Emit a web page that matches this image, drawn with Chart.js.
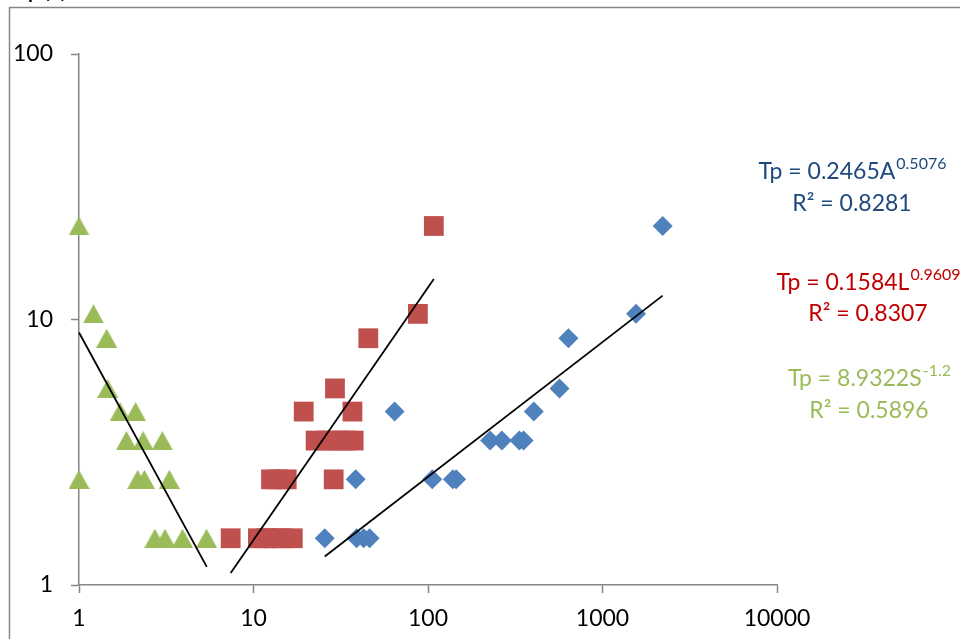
<!DOCTYPE html>
<html>
<head>
<meta charset="utf-8">
<script src="https://cdn.jsdelivr.net/npm/chart.js@4/dist/chart.umd.min.js"></script>
<style>
    body { margin: 0; background: #ffffff; }
    #wrap { width: 960px; height: 639px; }
</style>
</head>
<body>
<div id="wrap"><canvas id="tpChart" width="960" height="639"></canvas></div>
<script>
// Tp against catchment area (A), length (L) and slope (S)
const areaX = [25.6, 39.0, 42.8, 46.3, 38.5, 105.8, 138.8, 145, 227, 265, 334, 353, 64.4, 404, 567, 638, 1557, 2212];
const areaY = [1.5, 1.5, 1.5, 1.5, 2.5, 2.5, 2.5, 2.5, 3.5, 3.5, 3.5, 3.5, 4.5, 4.5, 5.5, 8.5, 10.5, 22.5];

const lengthX = [7.4, 10.6, 11.8, 13.1, 14.5, 16.8, 12.6, 13.9, 15.5, 28.8, 22.7, 26.3, 29.6, 33.8, 37.5, 19.4, 36.9, 29.3, 45.5, 87.5, 108];
const lengthY = [1.5, 1.5, 1.5, 1.5, 1.5, 1.5, 2.5, 2.5, 2.5, 2.5, 3.5, 3.5, 3.5, 3.5, 3.5, 4.5, 4.5, 5.5, 8.5, 10.5, 22.5];

const slopeX = [1, 1.21, 1.44, 1.46, 1.72, 2.11, 1.87, 2.33, 3.0, 1, 2.17, 2.37, 3.29, 2.72, 3.11, 3.92, 5.38];
const slopeY = [22.5, 10.5, 8.5, 5.5, 4.5, 4.5, 3.5, 3.5, 3.5, 2.5, 2.5, 2.5, 2.5, 1.5, 1.5, 1.5, 1.5];

// trend line end points
const areaFitX = [25.6, 2212];
const areaFitY = [1.28, 12.3];
const lengthFitX = [7.4, 108];
const lengthFitY = [1.11, 14.2];
const slopeFitX = [1, 5.4];
const slopeFitY = [8.93, 1.17];

const xTicks = [1, 10, 100, 1000, 10000];
const yTicks = [1, 10, 100];

const equations = [
    { base: "Tp = 0.2465A", sup: "0.5076", r2: "R\u00B2 = 0.8281", color: "#1F497D", cx: 852, y1: 171, y2: 203 },
    { base: "Tp = 0.1584L", sup: "0.9609", r2: "R\u00B2 = 0.8307", color: "#C00000", cx: 868, y1: 282, y2: 313 },
    { base: "Tp = 8.9322S", sup: "-1.2", r2: "R\u00B2 = 0.5896", color: "#9BBB59", cx: 869, y1: 378, y2: 410 }
];

function toPoints(xs, ys) {
    return xs.map((x, i) => ({ x: x, y: ys[i] }));
}

function fitLine(xs, ys) {
    return {
        type: "line",
        data: toPoints(xs, ys),
        borderColor: "#000000",
        borderWidth: 1.8,
        pointRadius: 0,
        fill: false,
        clip: false,
        order: 0
    };
}

// triangle marker centred in its box, like the spreadsheet one
const triangle = document.createElement("canvas");
triangle.width = 21;
triangle.height = 19;
(function () {
    const t = triangle.getContext("2d");
    t.fillStyle = "#9BBB59";
    t.beginPath();
    t.moveTo(10.5, 0);
    t.lineTo(21, 19);
    t.lineTo(0, 19);
    t.closePath();
    t.fill();
})();

const frameAndText = {
    id: "frameAndText",
    afterDraw(chart) {
        const ctx = chart.ctx;
        ctx.save();

        // outer frame
        ctx.strokeStyle = "#868686";
        ctx.lineWidth = 1.5;
        ctx.strokeRect(9.5, 7.5, 1000, 700);

        // clipped title at the top
        ctx.fillStyle = "#000000";
        ctx.font = "bold 20px Lato";
        ctx.textBaseline = "alphabetic";
        ctx.fillText("Tp (h)", 18, -2);

        equations.forEach(eq => {
            ctx.fillStyle = eq.color;
            ctx.font = "23px Lato";
            const w1 = ctx.measureText(eq.base).width;
            ctx.font = "16px Lato";
            const w2 = ctx.measureText(eq.sup).width;
            const x0 = eq.cx - (w1 + w2) / 2;
            ctx.font = "23px Lato";
            ctx.textAlign = "left";
            ctx.fillText(eq.base, x0, eq.y1 + 8);
            ctx.font = "16px Lato";
            ctx.fillText(eq.sup, x0 + w1 + 1, eq.y1 - 2);
            ctx.font = "23px Lato";
            ctx.textAlign = "center";
            ctx.fillText(eq.r2, eq.cx, eq.y2 + 8);
        });

        ctx.restore();
    }
};

new Chart(
    document.getElementById("tpChart"),
    {
        type: "scatter",

        data: {
            datasets: [
                fitLine(areaFitX, areaFitY),
                fitLine(lengthFitX, lengthFitY),
                fitLine(slopeFitX, slopeFitY),
                {
                    label: "A",
                    data: toPoints(areaX, areaY),
                    pointStyle: "rectRot",
                    pointRadius: 10,
                    backgroundColor: "#4F81BD",
                    borderColor: "#4F81BD",
                    borderWidth: 0,
                    clip: false,
                    order: 1
                },
                {
                    label: "L",
                    data: toPoints(lengthX, lengthY),
                    pointStyle: "rect",
                    pointRadius: 14,
                    backgroundColor: "#C0504D",
                    borderColor: "#C0504D",
                    borderWidth: 0,
                    clip: false,
                    order: 2
                },
                {
                    label: "S",
                    data: toPoints(slopeX, slopeY),
                    pointStyle: triangle,
                    pointRadius: 11,
                    backgroundColor: "#9BBB59",
                    borderColor: "#9BBB59",
                    borderWidth: 0,
                    clip: false,
                    order: 3
                }
            ]
        },

        options: {
            responsive: false,
            animation: false,
            layout: {
                padding: { left: 0, top: 54, right: 183, bottom: 0 }
            },
            plugins: {
                legend: { display: false },
                tooltip: { enabled: false }
            },
            scales: {
                x: {
                    type: "logarithmic",
                    min: 1,
                    max: 10000,
                    afterBuildTicks: s => { s.ticks = xTicks.map(v => ({ value: v })); },
                    afterFit: s => { s.height = 54; },
                    border: { display: true, color: "#868686", width: 1.5 },
                    grid: {
                        drawOnChartArea: false,
                        drawTicks: true,
                        tickLength: 8,
                        tickColor: "#868686",
                        tickWidth: 1.5
                    },
                    ticks: {
                        color: "#000000",
                        font: { family: "Lato", size: 23 },
                        padding: 12,
                        maxRotation: 0,
                        autoSkip: false,
                        callback: v => String(v)
                    }
                },
                y: {
                    type: "logarithmic",
                    min: 1,
                    max: 100,
                    afterBuildTicks: s => { s.ticks = yTicks.map(v => ({ value: v })); },
                    afterFit: s => { s.width = 79; },
                    border: { display: true, color: "#868686", width: 1.5 },
                    grid: {
                        drawOnChartArea: false,
                        drawTicks: true,
                        tickLength: 8,
                        tickColor: "#868686",
                        tickWidth: 1.5
                    },
                    ticks: {
                        color: "#000000",
                        font: { family: "Lato", size: 23 },
                        padding: 18,
                        autoSkip: false,
                        callback: v => String(v)
                    }
                }
            }
        },

        plugins: [frameAndText]
    }
);
</script>
</body>
</html>
